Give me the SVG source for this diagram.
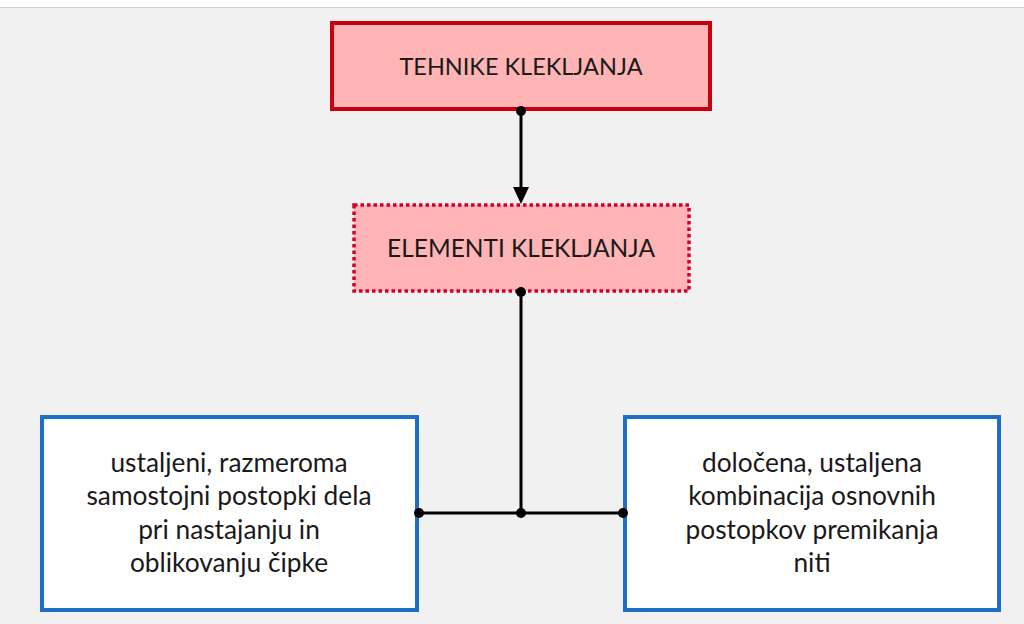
<svg xmlns="http://www.w3.org/2000/svg" width="1024" height="624" viewBox="0 0 1024 624">
  <style>
    .t { font-family: Lato, "Liberation Sans", sans-serif; fill: #1a1a1a; text-anchor: middle; }
    .cap { font-size: 23.5px; }
    .cap2 { font-size: 24.5px; }
    .body { font-size: 26.3px; }
    .conn { stroke: #000; stroke-width: 3; fill: none; }
  </style>
  <rect x="0" y="0" width="1024" height="624" fill="#f1f1f1"/>
  <rect x="0" y="0" width="1024" height="7" fill="#ffffff"/>
  <line x1="0" y1="7.5" x2="1024" y2="7.5" stroke="#cfcfcf" stroke-width="1"/>

  <g id="tehnike">
    <rect x="332" y="23" width="378" height="86" fill="#ffb5b5" stroke="#c8000e" stroke-width="4"/>
    <text class="t cap" x="521" y="75">TEHNIKE KLEKLJANJA</text>
  </g>
  <g id="elementi">
    <rect x="354" y="205" width="335" height="86" fill="#ffb5b5" stroke="#d4002a" stroke-width="3.5" stroke-dasharray="3.5 3"/>
    <text class="t cap2" x="521" y="257">ELEMENTI KLEKLJANJA</text>
  </g>
  <g id="levo">
    <rect x="42" y="417" width="375" height="193" fill="#ffffff" stroke="#1e6fc6" stroke-width="4"/>
    <text class="t body" x="229" y="472">ustaljeni, razmeroma</text>
    <text class="t body" x="229" y="505">samostojni postopki dela</text>
    <text class="t body" x="229" y="539">pri nastajanju in</text>
    <text class="t body" x="229" y="572">oblikovanju čipke</text>
  </g>
  <g id="desno">
    <rect x="625" y="417" width="374" height="193" fill="#ffffff" stroke="#1e6fc6" stroke-width="4"/>
    <text class="t body" x="812" y="472">določena, ustaljena</text>
    <text class="t body" x="812" y="505">kombinacija osnovnih</text>
    <text class="t body" x="812" y="539">postopkov premikanja</text>
    <text class="t body" x="812" y="572">niti</text>
  </g>
  <g id="connectors">
    <line class="conn" x1="521" y1="111" x2="521" y2="190"/>
    <path d="M513,187 L529,187 L521,204 Z" fill="#000"/>
    <circle cx="521" cy="111" r="5" fill="#000"/>
    <path class="conn" d="M521,292 V513 M419,513 H623"/>
    <circle cx="521" cy="292" r="5" fill="#000"/>
    <circle cx="419" cy="513" r="5" fill="#000"/>
    <circle cx="521" cy="513" r="5" fill="#000"/>
    <circle cx="623" cy="513" r="5" fill="#000"/>
  </g>
</svg>
